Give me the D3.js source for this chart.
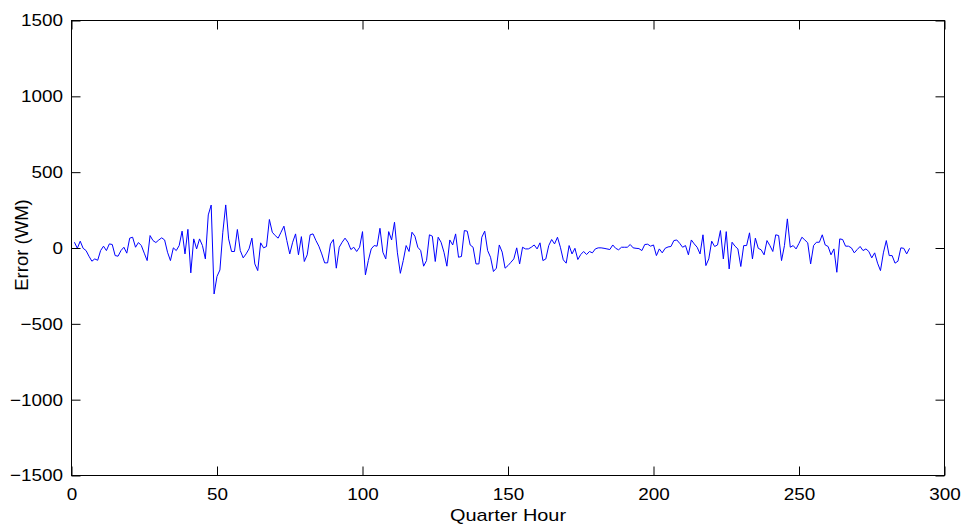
<!DOCTYPE html>
<html>
<head>
<meta charset="utf-8">
<script src="https://cdn.jsdelivr.net/npm/d3@7"></script>
<style>
  html, body { margin: 0; padding: 0; background: #fff; }
  svg { display: block; }
  text { font-family: "Liberation Sans", Arial, Helvetica, sans-serif; fill: #000; }
</style>
</head>
<body>
<svg id="chart" width="965" height="526"></svg>
<script>
// Forecast error per quarter hour (288 quarter hours = 3 days)
const errorValues = [
  38, -2, 45, -2, -17, -54, -87, -72, -81, -17,
  12, -17, 27, 23, -50, -54, -17, 5, -34, 65,
  71, 5, 36, 16, -34, -83, 82, 49, 36, 53,
  67, 53, -28, -83, 1, -17, 16, 111, -39, 123,
  -164, 60, -6, 60, 16, -72, 218, 283, -303, -187,
  -145, 104, 284, 60, -23, -23, 122, -17, -65, -39,
  -6, 65, -105, -149, 34, 1, 10, 188, 104, 82,
  65, 104, 144, 49, -39, 38, 93, -45, 75, -89,
  -45, 87, 93, 49, 12, -39, -98, -98, 27, 56,
  -133, 5, 38, 65, 38, -10, 5, -23, 5, 108,
  -177, -83, -6, 16, 12, 130, -28, -72, 108, 53,
  170, -32, -167, -83, 16, -23, 104, 78, 5, -17,
  -120, -83, 87, 78, -89, 71, 38, -28, -120, 53,
  20, 93, -61, -56, 115, 111, 20, 5, -105, -105,
  71, 111, -17, -61, -155, -133, 20, -27, -133, -116,
  -94, -72, 1, -105, 5, -6, -6, 5, 20, -6,
  34, -83, -72, 16, 56, 27, 71, 5, -78, -100,
  16, -39, -2, -76, -43, -23, -43, -23, -32, -6,
  1, 1, -2, -6, -10, 20, -2, -12, 5, 5,
  5, 23, 1, -2, -4, -17, 23, 25, 12, 20,
  -50, -6, -32, -2, 7, 10, 49, 53, 31, 5,
  16, -45, 53, 27, 5, -39, 87, -116, -72, 45,
  10, 20, 115, -72, 108, -138, 38, 12, -6, -122,
  16, 16, 100, -72, 65, -2, -12, -45, 49, 16,
  -23, 87, 82, -83, 16, 192, 5, 16, -6, 31,
  71, 53, 34, -105, 16, 38, 38, 87, 20, 10,
  -45, -6, -160, 60, 56, 12, 12, 1, -32, -10,
  10, -17, -6, -23, -65, -32, -100, -149, -32, 49,
  -50, -50, -100, -87, 1, -2, -39, -2
];
// Quarter-hour index of each value (1-based)
const quarterHours = errorValues.map((_, i) => i + 1);

const xTicks = [0, 50, 100, 150, 200, 250, 300];
const yTicks = [-1500, -1000, -500, 0, 500, 1000, 1500];
const xDomain = [0, 300];
const yDomain = [-1500, 1500];
const xLabel = "Quarter Hour";
const yLabel = "Error (WM)";

const svg = d3.select("#chart");
const plot = { left: 71.5, right: 944.5, top: 20.5, bottom: 475.5 };
const tickLen = 9;

const x = d3.scaleLinear().domain(xDomain).range([plot.left, plot.right]);
const y = d3.scaleLinear().domain(yDomain).range([plot.bottom, plot.top]);

// Data line
const line = d3.line()
  .x((d, i) => x(quarterHours[i]))
  .y(d => y(d));

svg.append("path")
  .datum(errorValues)
  .attr("d", line)
  .attr("fill", "none")
  .attr("stroke", "#0000ff")
  .attr("stroke-width", 1)
  .attr("stroke-linejoin", "round");

// Axes: ticks point inward on all four sides (boxed axes)
const fmt = d3.format("d");
const fontSize = 17;

const bottomAxis = d3.axisBottom(x).tickValues(xTicks).tickFormat(fmt)
  .tickSizeInner(-tickLen).tickSizeOuter(0).tickPadding(tickLen + 8);
const topAxis = d3.axisTop(x).tickValues(xTicks).tickFormat("")
  .tickSizeInner(-tickLen).tickSizeOuter(0);
const leftAxis = d3.axisLeft(y).tickValues(yTicks).tickFormat(fmt)
  .tickSizeInner(-tickLen).tickSizeOuter(0).tickPadding(tickLen + 8);
const rightAxis = d3.axisRight(y).tickValues(yTicks).tickFormat("")
  .tickSizeInner(-tickLen).tickSizeOuter(0);

function styleAxis(g) {
  g.select(".domain").remove();
  g.selectAll(".tick line").attr("stroke", "#000").attr("stroke-width", 1);
  g.selectAll(".tick text")
    .attr("font-size", fontSize)
    .attr("font-family", "Liberation Sans, Arial, sans-serif")
    .attr("fill", "#000");
}

svg.append("g").attr("transform", `translate(0,${plot.bottom})`).call(bottomAxis).call(styleAxis)
  .selectAll(".tick text").attr("dy", "0.35em").attr("y", 19);
svg.append("g").attr("transform", `translate(0,${plot.top})`).call(topAxis).call(styleAxis);
svg.append("g").attr("transform", `translate(${plot.left},0)`).call(leftAxis).call(styleAxis)
  .selectAll(".tick text").attr("x", -8.5);
svg.append("g").attr("transform", `translate(${plot.right},0)`).call(rightAxis).call(styleAxis);

// Frame
svg.append("rect")
  .attr("x", plot.left).attr("y", plot.top)
  .attr("width", plot.right - plot.left).attr("height", plot.bottom - plot.top)
  .attr("fill", "none").attr("stroke", "#000").attr("stroke-width", 1);

// Axis titles
svg.append("text")
  .attr("class", "xlabel")
  .attr("x", (plot.left + plot.right) / 2)
  .attr("y", 521)
  .attr("text-anchor", "middle")
  .attr("font-size", fontSize)
  .text(xLabel);

svg.append("text")
  .attr("class", "ylabel")
  .attr("transform", `translate(27.5,${(plot.top + plot.bottom) / 2 - 3}) rotate(-90)`)
  .attr("text-anchor", "middle")
  .attr("font-size", 18.5)
  .text(yLabel);

// Slightly widen horizontal lettering
svg.selectAll(".tick text").each(function () {
  const len = this.getComputedTextLength();
  if (len > 0) d3.select(this).attr("textLength", len * 1.11).attr("lengthAdjust", "spacingAndGlyphs");
});
svg.selectAll(".xlabel").each(function () {
  const len = this.getComputedTextLength();
  d3.select(this).attr("textLength", len * 1.17).attr("lengthAdjust", "spacingAndGlyphs");
});
</script>
</body>
</html>
